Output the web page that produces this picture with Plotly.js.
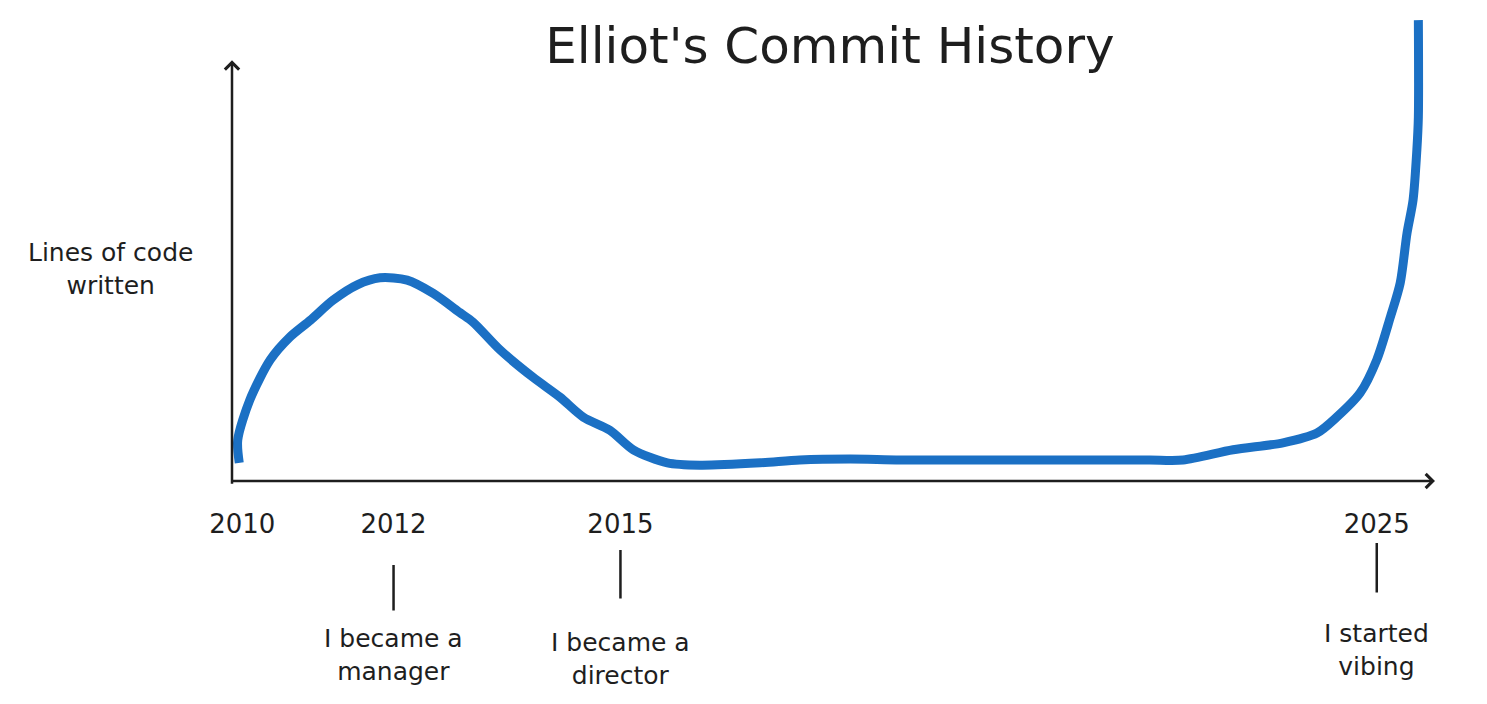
<!DOCTYPE html>
<html>
<head>
<meta charset="utf-8">
<script src="https://cdn.plot.ly/plotly-3.0.1.min.js"></script>
<style>html,body{margin:0;padding:0;background:#fff;}#chart{width:1487px;height:704px;}</style>
</head>
<body>
<div id="chart"></div>
<script>
// ---- data ----
const years = [2009.96, 2009.94, 2010.10, 2010.37, 2010.63, 2010.90, 2011.20, 2011.52, 2011.82, 2012.18,
  2012.52, 2012.88, 2013.05, 2013.41, 2013.84, 2014.20, 2014.51, 2014.86, 2015.17, 2015.62,
  2016.05, 2016.85, 2017.37, 2018.04, 2018.70, 2020.02, 2021.34, 2022.00, 2022.44, 2023.10,
  2023.76, 2024.21, 2024.47, 2024.78, 2025.00, 2025.18, 2025.31, 2025.40, 2025.48, 2025.53,
  2025.55, 2025.55];
const linesOfCode = [3.9, 8.8, 17.4, 26.0, 30.9, 34.5, 38.8, 42.1, 43.6, 43.1,
  40.3, 36.1, 34.1, 28.1, 22.3, 18.0, 13.7, 10.9, 6.7, 3.9,
  3.4, 3.9, 4.5, 4.7, 4.5, 4.5, 4.5, 4.5, 4.5, 6.7,
  8.2, 10.3, 13.7, 18.9, 26.0, 35.2, 42.5, 53.2, 60.3, 71.0,
  78.1, 98.9];
const tickYears = [2010, 2012, 2015, 2025];
const tickLabels = ["2010", "2012", "2015", "2025"];
const milestoneYears = [2012, 2015, 2025];
const milestoneLabels = ["I became a<br>manager", "I became a<br>director", "I started<br>vibing"];
const chartTitle = "Elliot's Commit History";
const yLabel = "Lines of code<br>written";

// ---- styling ----
const FONT = "DejaVu Sans, Noto Sans, sans-serif";
const INK = "#1e1e1e";
const X0 = 2009.864, X1 = 2025.77;

const milestoneStyle = [
  {y: -0.180, ay: 90, gap: 12},
  {y: -0.148, ay: 109, gap: 28},
  {y: -0.133, ay: 107, gap: 25}
];

const annotations = [];
// x axis arrow
annotations.push({x: X1, y: 0, xref: 'x', yref: 'y', axref: 'x', ayref: 'y', ax: 2009.837, ay: 0,
  showarrow: true, arrowhead: 4, arrowsize: 1.1, arrowwidth: 2.5, arrowcolor: INK, text: ''});
// y axis arrow
annotations.push({x: X0, y: 90.3, xref: 'x', yref: 'y', axref: 'x', ayref: 'y', ax: X0, ay: -0.9,
  showarrow: true, arrowhead: 4, arrowsize: 1.1, arrowwidth: 2.5, arrowcolor: INK, text: ''});
// y label
annotations.push({x: -0.1014, y: 45.5, xref: 'paper', yref: 'y', text: yLabel, showarrow: false,
  font: {family: FONT, size: 25, color: INK}, align: 'center', xanchor: 'center', yanchor: 'middle'});
// milestones
milestoneYears.forEach((yr, i) => {
  const s = milestoneStyle[i];
  annotations.push({x: yr, y: s.y, xref: 'x', yref: 'paper', ax: 0, ay: s.ay, text: milestoneLabels[i],
    showarrow: true, arrowhead: 0, arrowwidth: 2.5, arrowcolor: INK, startstandoff: s.gap,
    font: {family: FONT, size: 25, color: INK}, align: 'center'});
});

const trace = {
  x: years, y: linesOfCode, type: 'scatter', mode: 'lines',
  line: {color: '#1b70c4', width: 9, shape: 'spline', smoothing: 0.8},
  cliponaxis: false, hoverinfo: 'skip'
};

const layout = {
  width: 1487, height: 704,
  margin: {l: 232, r: 52, t: 15, b: 223},
  paper_bgcolor: '#ffffff', plot_bgcolor: '#ffffff',
  showlegend: false,
  title: {text: chartTitle, font: {family: FONT, size: 50, color: INK},
    x: 0.497, xanchor: 'center', xref: 'paper', y: 1 - 45/704, yanchor: 'middle', yref: 'container'},
  xaxis: {range: [X0, X1], showgrid: false, zeroline: false, showline: false,
    tickmode: 'array', tickvals: tickYears, ticktext: tickLabels, ticks: '',
    ticklabelstandoff: 25, tickfont: {family: FONT, size: 26, color: INK}, fixedrange: true},
  yaxis: {range: [0, 100], showgrid: false, zeroline: false, showline: false,
    showticklabels: false, ticks: '', fixedrange: true},
  annotations: annotations
};

Plotly.newPlot('chart', [trace], layout, {displayModeBar: false, staticPlot: true});
</script>
</body>
</html>
